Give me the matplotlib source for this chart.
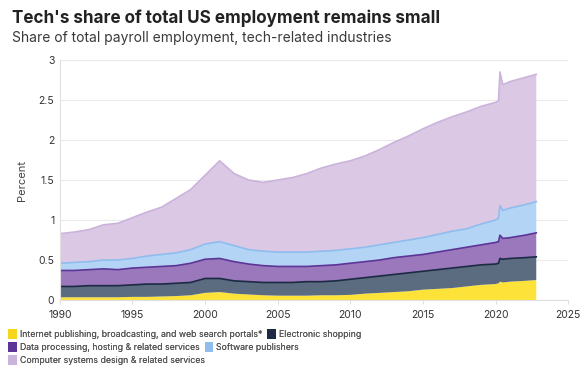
import numpy as np
import matplotlib
matplotlib.use("Agg")
import matplotlib.pyplot as plt
from matplotlib.patches import Patch

plt.rcParams['font.family'] = ['Inter', 'DejaVu Sans']

# Data (share of total payroll employment, percent)
years = [1990, 1991, 1992, 1993, 1994, 1995, 1996, 1997, 1998, 1999,
         2000, 2001, 2002, 2003, 2004, 2005, 2006, 2007, 2008, 2009,
         2010, 2011, 2012, 2013, 2014, 2015, 2016, 2017, 2018, 2019,
         2020, 2020.2, 2020.3, 2020.5, 2021, 2022, 2022.8]

internet = [.035, .035, .035, .035, .035, .04, .04, .045, .05, .06,
            .09, .10, .08, .07, .06, .055, .055, .055, .06, .06,
            .065, .08, .09, .10, .11, .13, .14, .15, .17, .19,
            .20, .21, .23, .22, .23, .24, .25]
eshopping = [.135, .135, .145, .145, .145, .15, .16, .155, .16, .16,
             .18, .17, .16, .16, .16, .165, .165, .175, .17, .18,
             .195, .20, .21, .22, .23, .23, .24, .25, .25, .25,
             .25, .25, .29, .29, .29, .29, .29]
dataproc = [.20, .20, .20, .21, .20, .21, .21, .22, .22, .24,
            .24, .25, .24, .22, .21, .20, .20, .19, .20, .20,
            .20, .20, .20, .21, .21, .21, .22, .23, .24, .25,
            .27, .27, .29, .26, .26, .28, .30]
software = [.09, .10, .10, .11, .12, .12, .14, .15, .16, .17,
            .19, .21, .20, .18, .18, .18, .18, .18, .18, .18,
            .18, .18, .19, .19, .20, .21, .22, .23, .23, .26,
            .28, .29, .37, .35, .37, .38, .39]
compsys = [.37, .38, .40, .44, .46, .51, .55, .59, .68, .75,
           .86, 1.01, .90, .87, .86, .90, .93, .98, 1.04, 1.08,
           1.10, 1.14, 1.19, 1.25, 1.30, 1.36, 1.40, 1.43, 1.46, 1.47,
           1.47, 1.47, 1.67, 1.57, 1.58, 1.59, 1.59]

labels = ["Internet publishing, broadcasting, and web search portals*",
          "Electronic shopping",
          "Data processing, hosting & related services",
          "Software publishers",
          "Computer systems design & related services"]
fill_colors = ["#fde23a", "#5b6b80", "#9a78bb", "#b3d4f5", "#dac8e4"]
line_colors = ["#f7d51a", "#1c2a44", "#5c3596", "#8fbdee", "#cbb4db"]

fig = plt.figure(figsize=(5.87, 3.70), dpi=100)
ax = fig.add_axes([0.102, 0.189, 0.866, 0.649])

series = [internet, eshopping, dataproc, software, compsys]
ax.stackplot(years, *series, colors=fill_colors, linewidth=0)
cum = np.cumsum(np.array(series), axis=0)
for i in range(1, 5):
    ax.plot(years, cum[i], color=line_colors[i], lw=1.2)

ax.set_xlim(1990, 2025)
ax.set_ylim(0, 3)
ax.set_xticks(range(1990, 2026, 5))
ax.set_yticks([0, 0.5, 1, 1.5, 2, 2.5, 3])
ax.set_yticklabels(["0", "0.5", "1", "1.5", "2", "2.5", "3"])
ax.grid(axis='y', color="#ebebeb", lw=0.8)
ax.set_axisbelow(True)
for s in ["top", "right"]:
    ax.spines[s].set_visible(False)
ax.spines["left"].set_color("#e0e0e0")
ax.spines["bottom"].set_color("#e0e0e0")
ax.tick_params(axis='both', length=0, labelsize=7.5, colors="#333333", pad=4)
ax.tick_params(axis='x', length=3, color="#e0e0e0")
ax.set_ylabel("Percent", fontsize=8, color="#444444", labelpad=8)

fig.text(0.02, 0.952, "Tech's share of total US employment remains small",
         fontsize=12.3, fontweight="bold", color="#222222", va="center")
fig.text(0.02, 0.898, "Share of total payroll employment, tech-related industries",
         fontsize=10, color="#3a3a3a", va="center")

handles = [Patch(facecolor=c, edgecolor="none") for c in line_colors]
rows = [([0, 1], 0.097), ([2, 3], 0.062), ([4], 0.027)]
for idx, y in rows:
    leg = fig.legend([handles[i] for i in idx], [labels[i] for i in idx],
                     loc="center left", bbox_to_anchor=(0.008, y), ncol=len(idx),
                     frameon=False, fontsize=6.3, handlelength=1.0, handleheight=1.3,
                     handletextpad=0.3, columnspacing=0.6, borderaxespad=0,
                     labelcolor="#555555")
    fig.add_artist(leg)

fig.savefig("out.png", dpi=100)
